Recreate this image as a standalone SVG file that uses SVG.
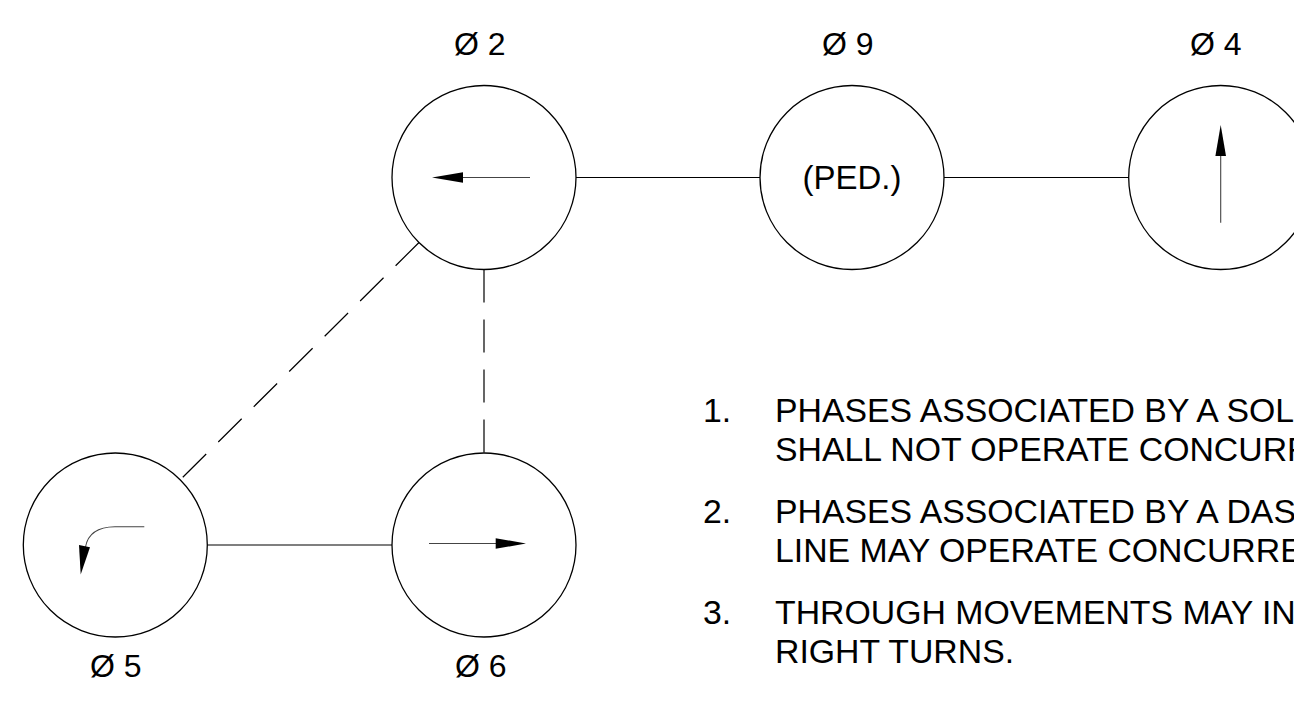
<svg xmlns="http://www.w3.org/2000/svg" width="1294" height="704" viewBox="0 0 1294 704">
<style>
.ring{fill:#fff;stroke:#000;stroke-width:1.3}
.mv{fill:none;stroke:#444;stroke-width:1.1}
.head{fill:#000;stroke:none}
.lbl{font-family:"Liberation Sans",Arial,sans-serif;font-size:32px;fill:#000}
.note{font-family:"Liberation Sans",Arial,sans-serif;font-size:33.8px;fill:#000}
.solid{stroke:#000;stroke-width:1.2;fill:none}
.dash{stroke:#000;stroke-width:1.2;fill:none;stroke-dasharray:33 17}
</style>
<rect width="1294" height="704" fill="#fff"/>
<g id="connectors">
<line class="solid" x1="576" y1="177.5" x2="760" y2="177.5"/>
<line class="solid" x1="944" y1="177.5" x2="1129" y2="177.5"/>
<line class="solid" x1="207" y1="545" x2="392" y2="545"/>
<line class="dash" x1="484" y1="269.5" x2="484" y2="453"/>
<line class="dash" x1="419" y1="242.5" x2="180" y2="480"/>
</g>
<g id="phase2">
<circle class="ring" cx="484" cy="177.5" r="92"/>
<line class="mv" x1="462" y1="177.5" x2="530" y2="177.5"/>
<polygon class="head" points="432,177.5 463,172.2 463,182.8"/>
<text class="lbl" x="454" y="55">Ø 2</text>
</g>
<g id="phase9">
<circle class="ring" cx="852" cy="177.5" r="92"/>
<text class="lbl" x="852" y="189" text-anchor="middle" style="font-size:33px">(PED.)</text>
<text class="lbl" x="822" y="55">Ø 9</text>
</g>
<g id="phase4">
<circle class="ring" cx="1220.7" cy="177.5" r="92"/>
<line class="mv" x1="1220.7" y1="155" x2="1220.7" y2="222.7"/>
<polygon class="head" points="1220.7,125 1215.4,156 1226,156"/>
<text class="lbl" x="1190" y="55">Ø 4</text>
</g>
<g id="phase5">
<circle class="ring" cx="115.3" cy="545" r="92"/>
<path class="mv" d="M144.3,526.7 L115,526.7 Q89,527 85.5,547"/>
<polygon class="head" points="79,545 90,547.3 80.7,574.5"/>
<text class="lbl" x="90" y="677">Ø 5</text>
</g>
<g id="phase6">
<circle class="ring" cx="484" cy="545" r="92"/>
<line class="mv" x1="429" y1="543.5" x2="497" y2="543.5"/>
<polygon class="head" points="526,543.5 495.7,538.2 495.7,548.8"/>
<text class="lbl" x="455" y="677">Ø 6</text>
</g>
<g id="notes">
<text class="note" x="703" y="422">1.</text>
<text class="note" x="775" y="422">PHASES ASSOCIATED BY A SOLID</text>
<text class="note" x="775" y="461">SHALL NOT OPERATE CONCURRENTLY.</text>
<text class="note" x="703" y="523">2.</text>
<text class="note" x="775" y="523">PHASES ASSOCIATED BY A DASHED</text>
<text class="note" x="775" y="562">LINE MAY OPERATE CONCURRENTLY.</text>
<text class="note" x="703" y="624">3.</text>
<text class="note" x="775" y="624">THROUGH MOVEMENTS MAY INCLUDE</text>
<text class="note" x="775" y="663">RIGHT TURNS.</text>
</g>
</svg>
